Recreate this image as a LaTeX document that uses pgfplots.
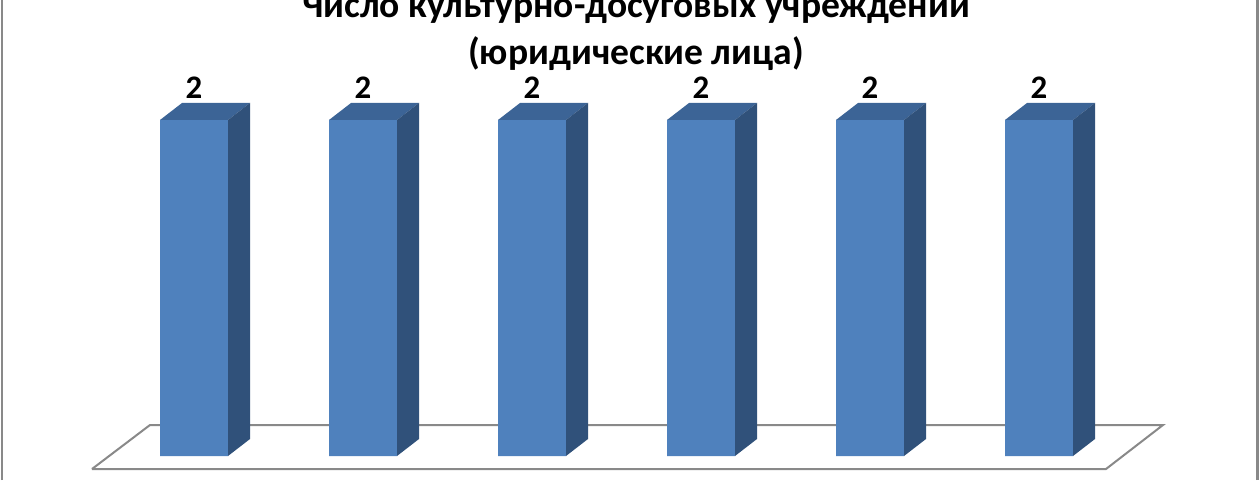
\documentclass[border=0pt]{standalone}
\usepackage{pgfplots}
\usepackage{pgfplotstable}
\pgfplotsset{compat=1.18}
\usepackage{fontspec}
\setmainfont{Carlito}
\definecolor{frontc}{HTML}{4F81BD}
\definecolor{topc}{HTML}{3C6496}
\definecolor{sidec}{HTML}{30517A}
\definecolor{floorc}{HTML}{898989}
\pgfplotstableread{
x y
0 2
1 2
2 2
3 2
4 2
5 2
}\datatable
\pgfdeclareplotmark{box3d}{%
 \pgfsetfillcolor{topc}%
 \pgfpathmoveto{\pgfpoint{-34bp}{0bp}}%
 \pgfpathlineto{\pgfpoint{-12bp}{17bp}}%
 \pgfpathlineto{\pgfpoint{56bp}{17bp}}%
 \pgfpathlineto{\pgfpoint{34bp}{0bp}}%
 \pgfpathclose
 \pgfusepath{fill}%
 \pgfsetfillcolor{sidec}%
 \pgfpathmoveto{\pgfpoint{34bp}{0bp}}%
 \pgfpathlineto{\pgfpoint{56bp}{17bp}}%
 \pgfpathlineto{\pgfpoint{56bp}{17bp-\ry*168bp}}%
 \pgfpathlineto{\pgfpoint{34bp}{-\ry*168bp}}%
 \pgfpathclose
 \pgfusepath{fill}%
}
\begin{document}
\begin{tikzpicture}
\begin{axis}[
  width=1260bp, height=480bp, scale only axis,
  xmin=-1.147929, xmax=6.307692,
  ymin=-0.142857, ymax=2.714286,
  hide axis, clip=false,
  /pgf/number format/assume math mode=true,
]
\addplot[draw=floorc, line width=2bp, line join=miter] coordinates {
  (-0.6036,-0.0774) (-0.2604,0.1845) (5.7337,0.1845) (5.3964,-0.0774) (-0.6036,-0.0774)};
\addplot[ybar, bar width=68bp, bar shift=0pt, fill=frontc, draw=none,
  nodes near coords,
  nodes near coords style={anchor=base, yshift=21bp, inner sep=0pt, text=black,
    font=\bfseries\fontsize{33}{33}\selectfont}]
  table[x=x,y=y] {\datatable};
\addplot[only marks, mark=box3d, visualization depends on={rawy \as \ry}]
  table[x=x,y=y] {\datatable};
\draw[floorc, line width=2.5bp] (rel axis cs:0.0016,0) -- (rel axis cs:0.0016,1);
\draw[floorc, line width=2.5bp] (rel axis cs:0.998,0) -- (rel axis cs:0.998,1);
\node[anchor=base, inner sep=0pt, font=\bfseries\fontsize{37.7}{40}\selectfont]
  at (rel axis cs:0.5048,0.9625) {Число культурно-досуговых учреждений};
\node[anchor=base, inner sep=0pt, font=\bfseries\fontsize{37.7}{40}\selectfont]
  at (rel axis cs:0.5048,0.8646) {(юридические лица)};
\end{axis}
\pgfresetboundingbox
\path (current axis.south west) rectangle (current axis.north east);
\end{tikzpicture}
\end{document}
